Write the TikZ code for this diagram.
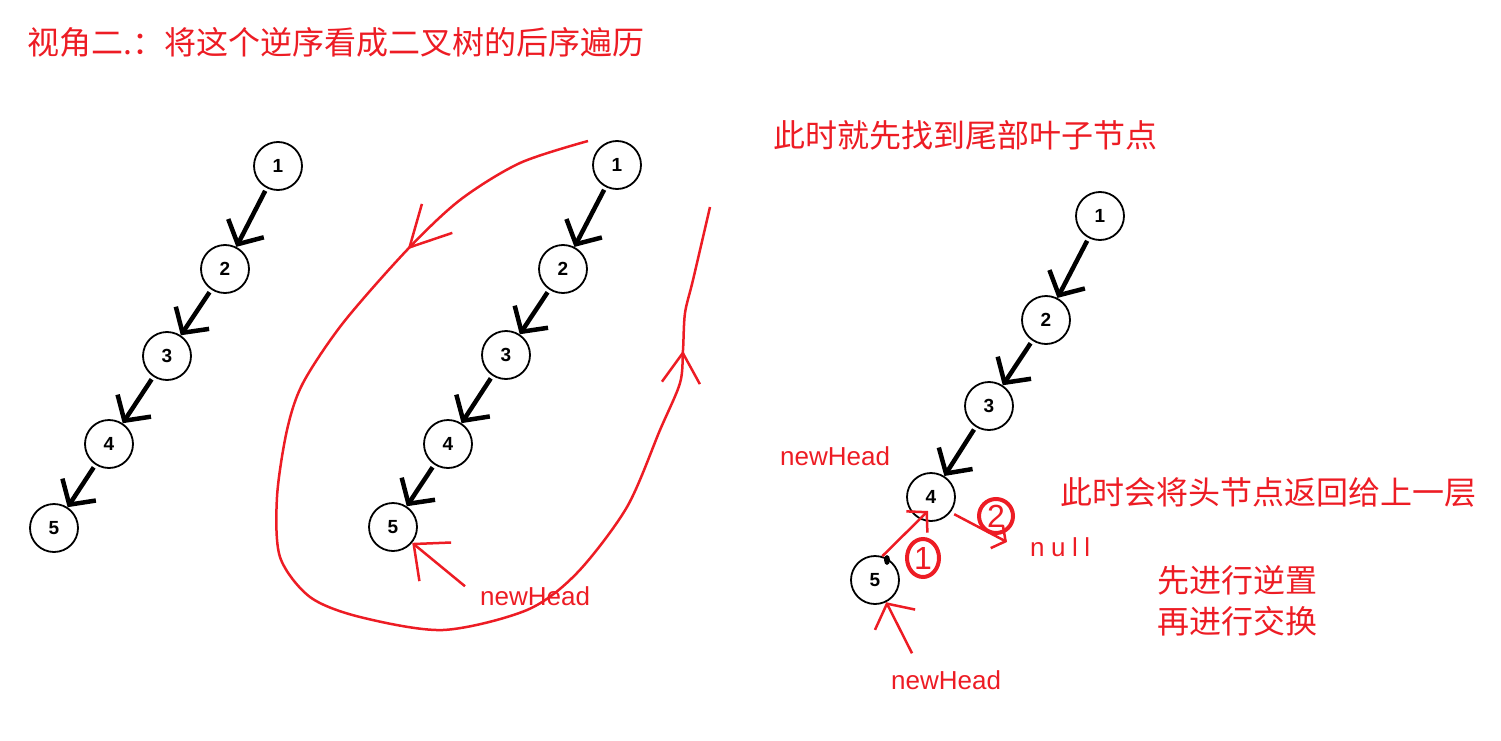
\documentclass[tikz,border=0pt]{standalone}
\usepackage{fontspec}
\setmainfont{Liberation Sans}
\newfontfamily\cjk{Noto Sans CJK SC}
\newfontfamily\spaced[LetterSpace=25]{Liberation Sans}
\usetikzlibrary{arrows.meta, decorations.markings, shapes.geometric}
\definecolor{penred}{HTML}{ED1C24}
\tikzset{
	treenode/.style={
			circle,
			draw=black,
			line width=1.8pt,
			fill=white,
			minimum size=48pt,
			inner sep=0pt,
			font=\fontsize{19}{19}\selectfont\bfseries
		},
	treeedge/.style={
			line width=4.5pt,
			-{Straight Barb[length=18pt,width=40pt]},
			shorten <=3pt
		},
	redtext/.style={
			text=penred,
			inner sep=0pt,
			anchor=west,
			font=\fontsize{32}{32}\selectfont\cjk
		},
	headtext/.style={
			text=penred,
			inner sep=0pt,
			anchor=west,
			font=\fontsize{26}{26}\selectfont
		},
	redpen/.style={
			penred,
			line width=2.5pt
		},
	stepmark/.style={
			ellipse,
			draw=penred,
			line width=4pt,
			text=penred,
			inner sep=0pt,
			font=\fontsize{32}{32}\selectfont
		}
}

\begin{document}
\begin{tikzpicture}[x=1pt, y=-1pt]
\useasboundingbox (0,0) rectangle (1501,741);

\node[redtext] (title) at (27,42) {视角二.：将这个逆序看成二叉树的后序遍历};
\node[redtext] (find) at (773,135) {此时就先找到尾部叶子节点};
\node[redtext] (back) at (1060,492) {此时会将头节点返回给上一层};
\node[redtext] (rev) at (1157,580) {先进行逆置};
\node[redtext] (swap) at (1157,621) {再进行交换};

\node[treenode] (l1) at (278,166) { 1 };
\node[treenode] (l2) at (225,269) { 2 };
\node[treenode] (l3) at (167,356) { 3 };
\node[treenode] (l4) at (109,444) { 4 };
\node[treenode] (l5) at (54,528)  { 5 };

\node[treenode] (m1) at (617,165) { 1 };
\node[treenode] (m2) at (563,269) { 2 };
\node[treenode] (m3) at (506,355) { 3 };
\node[treenode] (m4) at (448,444) { 4 };
\node[treenode] (m5) at (393,527) { 5 };

\node[treenode] (r1) at (1100,216) { 1 };
\node[treenode] (r2) at (1046,320) { 2 };
\node[treenode] (r3) at (989,406)  { 3 };
\node[treenode] (r4) at (931,497)  { 4 };
\node[treenode] (r5) at (875,580)  { 5 };

\draw[treeedge] (l1) -- (l2);
\draw[treeedge] (l2) -- (l3);
\draw[treeedge] (l3) -- (l4);
\draw[treeedge] (l4) -- (l5);

\draw[treeedge] (m1) -- (m2);
\draw[treeedge] (m2) -- (m3);
\draw[treeedge] (m3) -- (m4);
\draw[treeedge] (m4) -- (m5);

\draw[treeedge] (r1) -- (r2);
\draw[treeedge] (r2) -- (r3);
\draw[treeedge] (r3) -- (r4);

\draw[redpen, postaction={decorate}, decoration={markings,
    mark=at position 0.165 with {\arrow{Straight Barb[length=40pt,width=42pt]}},
    mark=at position 0.887 with {\arrow{Straight Barb[length=30pt,width=38pt]}}}]
  plot[smooth] coordinates {(588,141) (520,163) (460,200) (407,250) (343,323)
    (303,383) (287,430) (277,497) (280,557) (310,597) (360,617) (443,630)
    (527,610) (577,573) (627,507) (660,430) (680,383) (683,350) (685,313)
    (693,280) (710,207)};

\node[headtext] (hm) at (480,596) {newHead};
\draw[redpen, -{Straight Barb[length=28pt,width=50pt]}] ([xshift=-15pt]hm.north west) -- (m5);

\node[headtext] (ht) at (780,456) {newHead};
\node[headtext] (hb) at (891,680) {newHead};
\node[headtext, font=\fontsize{26}{26}\selectfont\spaced] (nul) at (1030,547) {null};
\draw[redpen, -{Straight Barb[length=18pt,width=45pt]}] ([xshift=21pt,yshift=17pt]hb.north west) -- (r5);

\coordinate (r4in) at (928,511);
\coordinate (nulltip) at (1007,542);
\fill (887,560) ellipse (3 and 5);
\draw[redpen, -{Straight Barb[length=14pt,width=30pt]}] (r5.73) -- (r4in);
\draw[redpen, shorten <=4pt, -{Straight Barb[length=10pt,width=26pt]}] (r4.-38) -- (nulltip);
\node[stepmark, minimum width=32pt, minimum height=38pt] (s1) at (923,558) {1};
\node[stepmark, minimum width=34pt, minimum height=34pt] (s2) at (996,516) {2};

\end{tikzpicture}
\end{document}
